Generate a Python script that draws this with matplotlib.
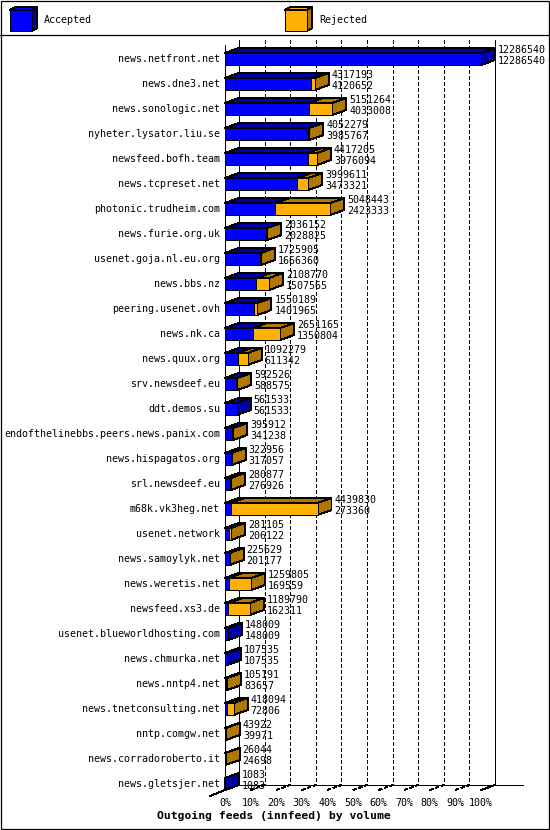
import matplotlib
matplotlib.use("Agg")
import matplotlib.pyplot as plt
from matplotlib.patches import Polygon, Rectangle

hosts = [
    "news.netfront.net", "news.dne3.net", "news.sonologic.net",
    "nyheter.lysator.liu.se", "newsfeed.bofh.team", "news.tcpreset.net",
    "photonic.trudheim.com", "news.furie.org.uk", "usenet.goja.nl.eu.org",
    "news.bbs.nz", "peering.usenet.ovh", "news.nk.ca", "news.quux.org",
    "srv.newsdeef.eu", "ddt.demos.su", "endofthelinebbs.peers.news.panix.com",
    "news.hispagatos.org", "srl.newsdeef.eu", "m68k.vk3heg.net",
    "usenet.network", "news.samoylyk.net", "news.weretis.net",
    "newsfeed.xs3.de", "usenet.blueworldhosting.com", "news.chmurka.net",
    "news.nntp4.net", "news.tnetconsulting.net", "nntp.comgw.net",
    "news.corradoroberto.it", "news.gletsjer.net",
]
offered = [
    12286540, 4317193, 5151264, 4052279, 4417205, 3999611, 5048443,
    2036152, 1725905, 2108770, 1550189, 2651165, 1092279, 592526,
    561533, 395912, 322956, 280877, 4439830, 281105, 225629, 1259805,
    1189790, 148009, 107535, 105191, 418094, 43922, 26044, 1083,
]
accepted = [
    12286540, 4120652, 4033008, 3985767, 3976094, 3473321, 2423333,
    2028825, 1666360, 1507565, 1401965, 1350804, 611342, 588575,
    561533, 341238, 317057, 276926, 273360, 206122, 201177, 169559,
    162311, 148009, 107535, 83657, 72806, 39971, 24698, 1083,
]
ticks = list(range(0, 101, 10))
title = "Outgoing feeds (innfeed) by volume"

W, H = 550, 830
X0, XSCALE = 225, 2.56      # pixel of 0 %, pixels per percent
Y0, YSCALE = 59, 25         # pixel of first row, pixels per row

def px2x(px):
    return (px - X0) / XSCALE

def py2y(py):
    return (py - Y0) / YSCALE

DX = 14 / XSCALE
DY = -5 / YSCALE
HH = 6 / YSCALE

BLUE, DBLUE = "#0000ff", "#0000aa"
ORANGE, DORANGE = "#ffb000", "#b07800"
LW = 0.7
FONT = "DejaVu Sans Mono"
FS = 7.2

plt.rcParams["font.family"] = FONT

fig = plt.figure(figsize=(W / 100, H / 100), dpi=100)
ax = fig.add_axes([0, 0, 1, 1])
ax.set_xlim(px2x(0), px2x(W))
ax.set_ylim(py2y(H), py2y(0))
ax.axis("off")


def box(x0, x1, y, face, dark, z):
    kw = dict(edgecolor="black", linewidth=LW, zorder=z, antialiased=False)
    top = y - HH
    bot = y + HH
    ax.add_patch(Polygon([(x0, top), (x1, top), (x1 + DX, top + DY), (x0 + DX, top + DY)],
                         facecolor=dark, **kw))
    ax.add_patch(Polygon([(x1, top), (x1 + DX, top + DY), (x1 + DX, bot + DY), (x1, bot)],
                         facecolor=dark, **kw))
    ax.add_patch(Rectangle((x0, top), x1 - x0, bot - top, facecolor=face, **kw))


def line(xs, ys, **kw):
    ax.plot(xs, ys, color="black", lw=0.7, zorder=1, antialiased=False, **kw)


# back plane, floor and grid
ytop_back, ybot_back = py2y(40), py2y(785)
ytop_front, ybot_front = py2y(45), py2y(790)
for t in ticks[1:-1]:
    line([t + DX, t + DX], [ytop_back, ybot_back], ls=(0, (4, 3)))
    line([t, t + DX], [ybot_front, ybot_back], ls=(0, (4, 3)))
for xl in (DX, 100 + DX):
    line([xl, xl], [ytop_back, ybot_back])
line([0, 0], [ytop_front, ybot_front])
line([DX, px2x(523)], [ybot_back, ybot_back])
line([100, 100 + DX], [ybot_front, ybot_back])
line([px2x(210), 0], [py2y(796), ybot_front])

vmax = max(offered)
for i, (h, tot, acc) in enumerate(zip(hosts, offered, accepted)):
    pa = acc / vmax * 100
    pt = tot / vmax * 100
    z = 3 + i * 0.01
    box(0, pa, i, BLUE, DBLUE, z)
    if tot > acc:
        box(pa, pt, i, ORANGE, DORANGE, z + 0.001)
    ax.text(px2x(220), i, h, ha="right", va="center", fontsize=FS, zorder=5)
    xt = pt + DX + 3 / XSCALE
    ax.text(xt, i - 0.36, str(tot), ha="left", va="center", fontsize=FS, zorder=5)
    ax.text(xt, i + 0.08, str(acc), ha="left", va="center", fontsize=FS, zorder=5)

for t in ticks:
    ax.text(t, py2y(803), f"{t}%", ha="center", va="center", fontsize=FS)

ax.text(px2x(274), py2y(816), title, ha="center", va="center",
        fontsize=8.2, fontweight="bold")

# legend
def cube(px, face, dark):
    kw = dict(edgecolor="black", linewidth=LW, zorder=6, antialiased=False)
    x0, x1 = px2x(px), px2x(px + 22)
    y0, y1 = py2y(10), py2y(31)
    ddx, ddy = 5 / XSCALE, -3 / YSCALE
    ax.add_patch(Polygon([(x0, y0), (x1, y0), (x1 + ddx, y0 + ddy), (x0 + ddx, y0 + ddy)],
                         facecolor=face, **kw))
    ax.add_patch(Polygon([(x1, y0), (x1 + ddx, y0 + ddy), (x1 + ddx, y1 + ddy), (x1, y1)],
                         facecolor=dark, **kw))
    ax.add_patch(Rectangle((x0, y0), x1 - x0, y1 - y0, facecolor=face, **kw))

cube(10, BLUE, DBLUE)
ax.text(px2x(44), py2y(20), "Accepted", ha="left", va="center", fontsize=FS)
cube(285, ORANGE, DORANGE)
ax.text(px2x(319), py2y(20), "Rejected", ha="left", va="center", fontsize=FS)

ax.add_patch(Rectangle((0.001, 0.001), 0.997, 0.998, transform=ax.transAxes,
                       fill=False, edgecolor="black", linewidth=0.9, zorder=10))
ax.plot([0, 1], [1 - 35 / H, 1 - 35 / H], transform=ax.transAxes,
        color="black", lw=0.9, zorder=10)

fig.savefig("out.png", dpi=100, facecolor="white")
